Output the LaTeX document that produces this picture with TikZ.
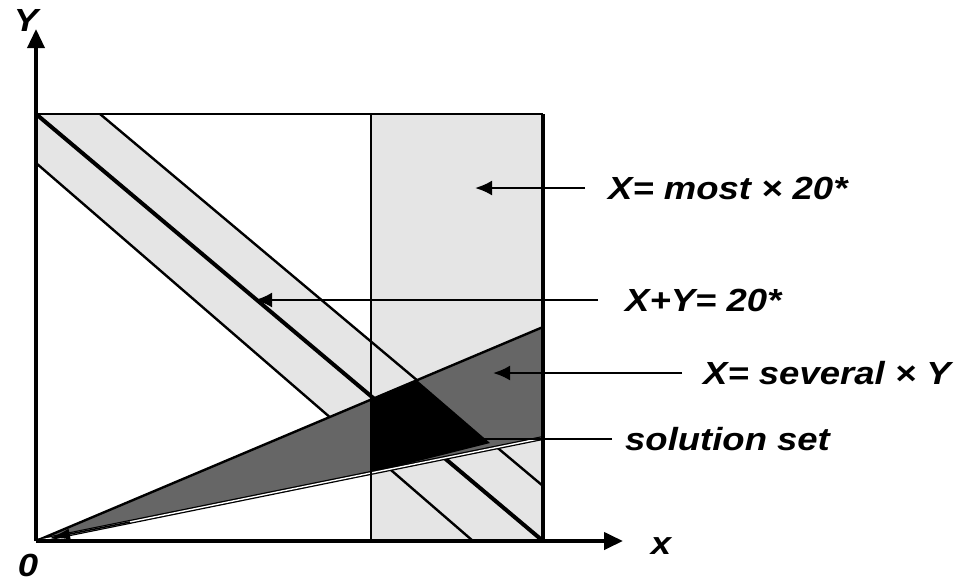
\documentclass[tikz,border=0pt]{standalone}
\usepackage{fontspec}
\setmainfont{Liberation Sans}[FakeStretch=1.14]
\usepackage{tikz}
\usetikzlibrary{arrows.meta}
\definecolor{lightfill}{gray}{0.9}
\definecolor{darkfill}{gray}{0.4}

\begin{document}
\begin{tikzpicture}[x=1pt,y=-1pt,
  lbl/.style={inner sep=0pt,font=\fontsize{32}{36}\selectfont\bfseries\itshape},
  pointer/.style={line width=2.4pt,-{Latex[length=17pt,width=15pt]}}]
  \useasboundingbox (0,0) rectangle (969,582);
  \coordinate (O) at (36,541);
  \coordinate (TL) at (36,114);  \coordinate (TR) at (543,114);
  \coordinate (BR) at (543,541);
  \coordinate (ST) at (371,114); \coordinate (SB) at (371,541); % X <= most*20
  \coordinate (bandA) at (100,114); \coordinate (bandB) at (543,486); % upper edge
  \coordinate (bandC) at (36,163);  \coordinate (bandD) at (473,541); % lower edge
  \coordinate (wedgeA) at (543,327); \coordinate (wedgeB) at (543,438);

  \fill[lightfill] (ST) rectangle (BR);
  \fill[lightfill] (TL) -- (bandA) -- (bandB) -- (BR) -- (bandD) -- (bandC) -- cycle;
  \draw[line width=2.4pt] (bandA) -- (bandB) (bandC) -- (bandD);
  \draw[line width=4pt] (TL) -- (BR);                       % X+Y = 20*
  \fill[darkfill] (O) -- (wedgeA) -- (wedgeB) -- cycle;
  \fill (371,399.6) -- (417,380.2) -- (490,443) -- (371,472.9) -- cycle; % solution set
  \draw[line width=2.4pt] (O) -- (wedgeA);
  \draw[line width=1.3pt,double,double distance=1.4pt] (wedgeB) -- (O);
  \draw[line width=1.5pt,-{Latex[length=20pt,width=11pt]}] (130,522) -- (50,538);

  \draw[line width=2.5pt] (TL) -- (TR) (ST) -- (SB);
  \draw[line width=4.5pt] (TR) -- (BR);
  \draw[line width=3.5pt,-{Triangle[length=19pt,width=17pt]}] (O) -- (36,29);
  \draw[line width=4pt,-{Triangle[length=19pt,width=17pt]}] (O) -- (623,541);
  \node[lbl] (ylab) at (26,20) {Y};
  \node[lbl] (zero) at (28,565) {0};
  \node[lbl] (xlab) at (661,546) {x};

  \node[lbl,anchor=west] (most) at (608,188) {X= most × 20*};
  \node[lbl,anchor=west] (sum) at (625,300) {X+Y= 20*};
  \node[lbl,anchor=west] (several) at (703,373) {X= several × Y};
  \node[lbl,anchor=west] (sol) at (625,439) {solution set};
  \coordinate (mostTip) at (475,188);
  \coordinate (sumTip) at (255,300);
  \coordinate (severalTip) at (493,373);
  \coordinate (solEnd) at (483,439);
  \draw[pointer] ([xshift=-23pt]most.west) -- (mostTip);
  \draw[pointer] ([xshift=-27pt]sum.west) -- (sumTip);
  \draw[pointer] ([xshift=-21pt]several.west) -- (severalTip);
  \draw[line width=2.4pt] ([xshift=-13pt]sol.west) -- (solEnd);
\end{tikzpicture}
\end{document}
